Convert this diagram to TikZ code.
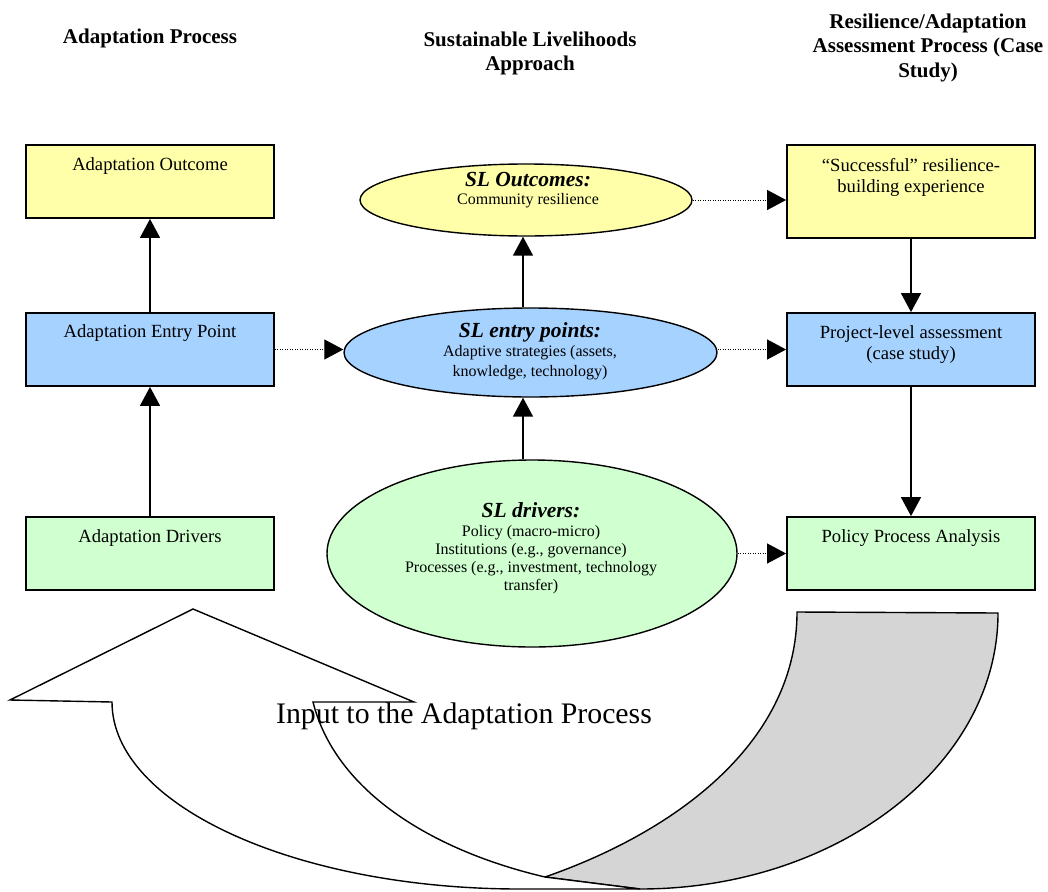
\documentclass[tikz,border=0pt]{standalone}
\usepackage{fontspec}
\setmainfont{Liberation Serif}
\usetikzlibrary{arrows.meta,shapes.geometric}
\definecolor{ylw}{RGB}{255,255,170}
\definecolor{blu}{RGB}{166,210,255}
\definecolor{grn}{RGB}{208,255,208}
\definecolor{gry}{RGB}{213,213,213}
\newcommand{\sltfont}{\bfseries\itshape\fontsize{21.5}{22}\selectfont}
\begin{document}
\begin{tikzpicture}[x=1pt,y=-1pt,
  box/.style={draw, line width=1.8pt, minimum width=248pt, minimum height=73pt, inner sep=0pt},
  ell/.style={ellipse, draw, line width=1.4pt, inner sep=0pt},
  boxtext/.style={font=\fontsize{18.6}{21}\selectfont, align=center, inner sep=0pt},
  elltext/.style={font=\fontsize{16}{18.2}\selectfont, align=center, inner sep=0pt},
  head/.style={font=\bfseries\fontsize{21}{24.5}\selectfont, align=center, inner sep=0pt},
  arr/.style={line width=1.5pt, -{Triangle[length=19pt,width=20pt]}},
  dotarr/.style={line width=1pt, dash pattern=on 1pt off 1.5pt, -{Triangle[length=19pt,width=20pt]}},
  band/.style={draw, line width=1.4pt, line join=miter}]
\useasboundingbox (0,0) rectangle (1048,891);

% headers
\node[head] (h1) at (150,38) {Adaptation Process};
\node[head] (h2) at (530,53.5) {Sustainable Livelihoods\\Approach};
\node[head] (h3) at (928,47.5) {Resilience/Adaptation\\Assessment Process (Case\\Study)};

% left column
\node[box, fill=ylw] (ao) at (150,181.5) {};
\node[boxtext] (aot) at (150,166.5) {Adaptation Outcome};
\node[box, fill=blu] (aep) at (150,349.5) {};
\node[boxtext] (aept) at (150,333.5) {Adaptation Entry Point};
\node[box, fill=grn] (ad) at (150,553.5) {};
\node[boxtext] (adt) at (150,538.5) {Adaptation Drivers};

% right column
\node[box, fill=ylw, minimum height=93pt] (succ) at (911,191.5) {};
\node[boxtext] (succt) at (911,177) {“Successful” resilience-\\building experience};
\node[box, fill=blu] (proj) at (911,349.5) {};
\node[boxtext] (projt) at (911,345) {Project-level assessment\\(case study)};
\node[box, fill=grn] (ppa) at (911,553.5) {};
\node[boxtext] (ppat) at (911,538.5) {Policy Process Analysis};

% middle ellipses
\node[ell, fill=ylw, minimum width=332pt, minimum height=72pt] (slo) at (526,200) {};
\node[elltext] (slot) at (528,190.5) {{\sltfont SL Outcomes:}\\Community resilience};
\node[ell, fill=blu, minimum width=373pt, minimum height=89pt] (sle) at (530.5,352.5) {};
\node[elltext, font=\fontsize{16}{19.7}\selectfont] (slet) at (530,351) {{\sltfont SL entry points:}\\Adaptive strategies (assets,\\knowledge, technology)};
\node[ell, fill=grn, minimum width=410pt, minimum height=187pt] (sld) at (532,553.5) {};
\node[elltext] (sldt) at (531,548.5) {{\sltfont SL drivers:}\\Policy (macro-micro)\\Institutions (e.g., governance)\\Processes (e.g., investment, technology\\transfer)};

% vertical arrows
\coordinate (mx) at (523,0);
\draw[arr] (aep.north) -- (ao.south);
\draw[arr] (ad.north) -- (aep.south);
\draw[arr] (sle.north -| mx) -- (slo.south -| mx);
\draw[arr] (sld.north -| mx) -- (sle.south -| mx);
\draw[arr] (succ.south) -- (proj.north);
\draw[arr] (proj.south) -- (ppa.north);

% dotted arrows
\draw[dotarr] (aep.east) -- (sle.west |- aep.east);
\draw[dotarr] (slo.east) -- (succ.west |- slo.east);
\draw[dotarr] (sle.east |- proj.west) -- (proj.west);
\draw[dotarr] (sld.east) -- (ppa.west |- sld.east);

% bottom U-turn arrow
\path[band, fill=gry] (797,612) -- (998,613)
  .. controls (998,765) and (837,889) .. (640,889)
  -- (545,877)
  .. controls (680,830) and (797,740) .. (797,612) -- cycle;
\path[band, fill=white] (193,609) -- (414,702) -- (313,702)
  .. controls (335,790) and (430,850) .. (545,877)
  -- (640,889) -- (520,889)
  .. controls (295,889) and (112,805) .. (112,702)
  -- (10,700) -- cycle;
\node[font=\fontsize{29.8}{32}\selectfont, inner sep=0pt] (inp) at (464,716) {Input to the Adaptation Process};
\end{tikzpicture}
\end{document}
